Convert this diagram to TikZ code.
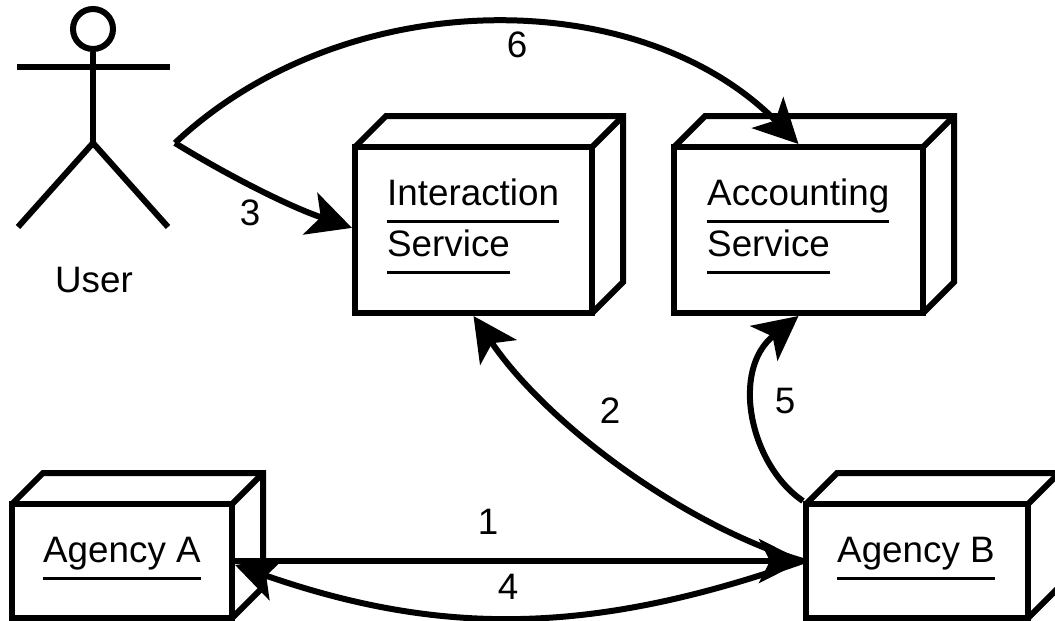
\documentclass[tikz,border=0pt]{standalone}
\usepackage{fontspec}
\setmainfont{Liberation Sans}
\usetikzlibrary{arrows.meta}
\tikzset{
	box/.style={draw,line width=6pt,fill=white,inner sep=0pt},
	boxline/.style={line width=6pt,line join=miter},
	lab/.style={font=\fontsize{36.8}{40}\selectfont,inner sep=0pt},
	title/.style={lab,anchor=base west},
	rule/.style={line width=3pt},
	conn/.style={line width=6pt,-{Stealth[length=44pt,width=44pt,inset=11pt]}},
	limb/.style={line width=6pt}
}
\begin{document}
	\begin{tikzpicture}[x=1pt,y=-1pt]
		\useasboundingbox(0,0)rectangle(1055,621);
		\node(interaction)[box,minimum width=237pt,minimum height=166pt]at(473.5,230){};
		\node(accounting)[box,minimum width=249pt,minimum height=166pt]at(798.5,230){};
		\node(agencya)[box,minimum width=220pt,minimum height=114pt]at(122,561){};
		\node(agencyb)[box,minimum width=222pt,minimum height=114pt]at(917,561){};
		\foreach \n in {interaction,accounting,agencya,agencyb}{
			\draw[boxline]([shift={(3,3)}]\n.north west)--++(31,-31)-|([shift={(28,-34)}]\n.south east)--([shift={(-3,-3)}]\n.south east);
			\draw[boxline]([shift={(-3,3)}]\n.north east)--([shift={(28,-28)}]\n.north east);
		}
		\node(t1)[title]at(387,205){Interaction};
		\node(t2)[title]at(387,256){Service};
		\node(t3)[title]at(707,205){Accounting};
		\node(t4)[title]at(707,256){Service};
		\node(t5)[title]at(43,562){Agency A};
		\node(t6)[title]at(837,562){Agency B};
		\foreach \n in {t1,t2,t3,t4,t5,t6}
			\draw[rule]([yshift=-16pt]\n.base west)--([yshift=-16pt]\n.base east);
		\node(head)[draw,circle,line width=6pt,minimum size=40pt,inner sep=0pt]at(93,29){};
		\coordinate(hip)at(93,143);
		\coordinate(lhand)at(17,67);
		\coordinate(rhand)at(170,67);
		\coordinate(lfoot)at(18,227);
		\coordinate(rfoot)at(168,227);
		\coordinate(user)at(175,143);
		\draw[limb](head)--(hip);
		\draw[limb](lhand)--(rhand);
		\draw[limb](lfoot)--(hip)--(rfoot);
		\node(name)[lab,anchor=base]at(94,292){User};
		\draw[conn](agencya.east)--(agencyb.west);
		\draw[conn](agencyb.west)..controls(590,636)and(440,636)..(agencya.-2);
		\draw[conn](agencyb.west)..controls(690,528)and(550,428)..(interaction.south);
		\draw[conn](agencyb.north west)..controls(750,465)and(730,370)..(accounting.south);
		\draw[conn](user)..controls(222,172)and(285,205)..(interaction.179);
		\draw[conn](user)..controls(345,-17)and(640,-17)..(accounting.north);
		\node(n1)[lab]at(488,522){1};
		\node(n2)[lab]at(610,411){2};
		\node(n3)[lab]at(250,213){3};
		\node(n4)[lab]at(508,587){4};
		\node(n5)[lab]at(785,401){5};
		\node(n6)[lab]at(517,45){6};
	\end{tikzpicture}
\end{document}
